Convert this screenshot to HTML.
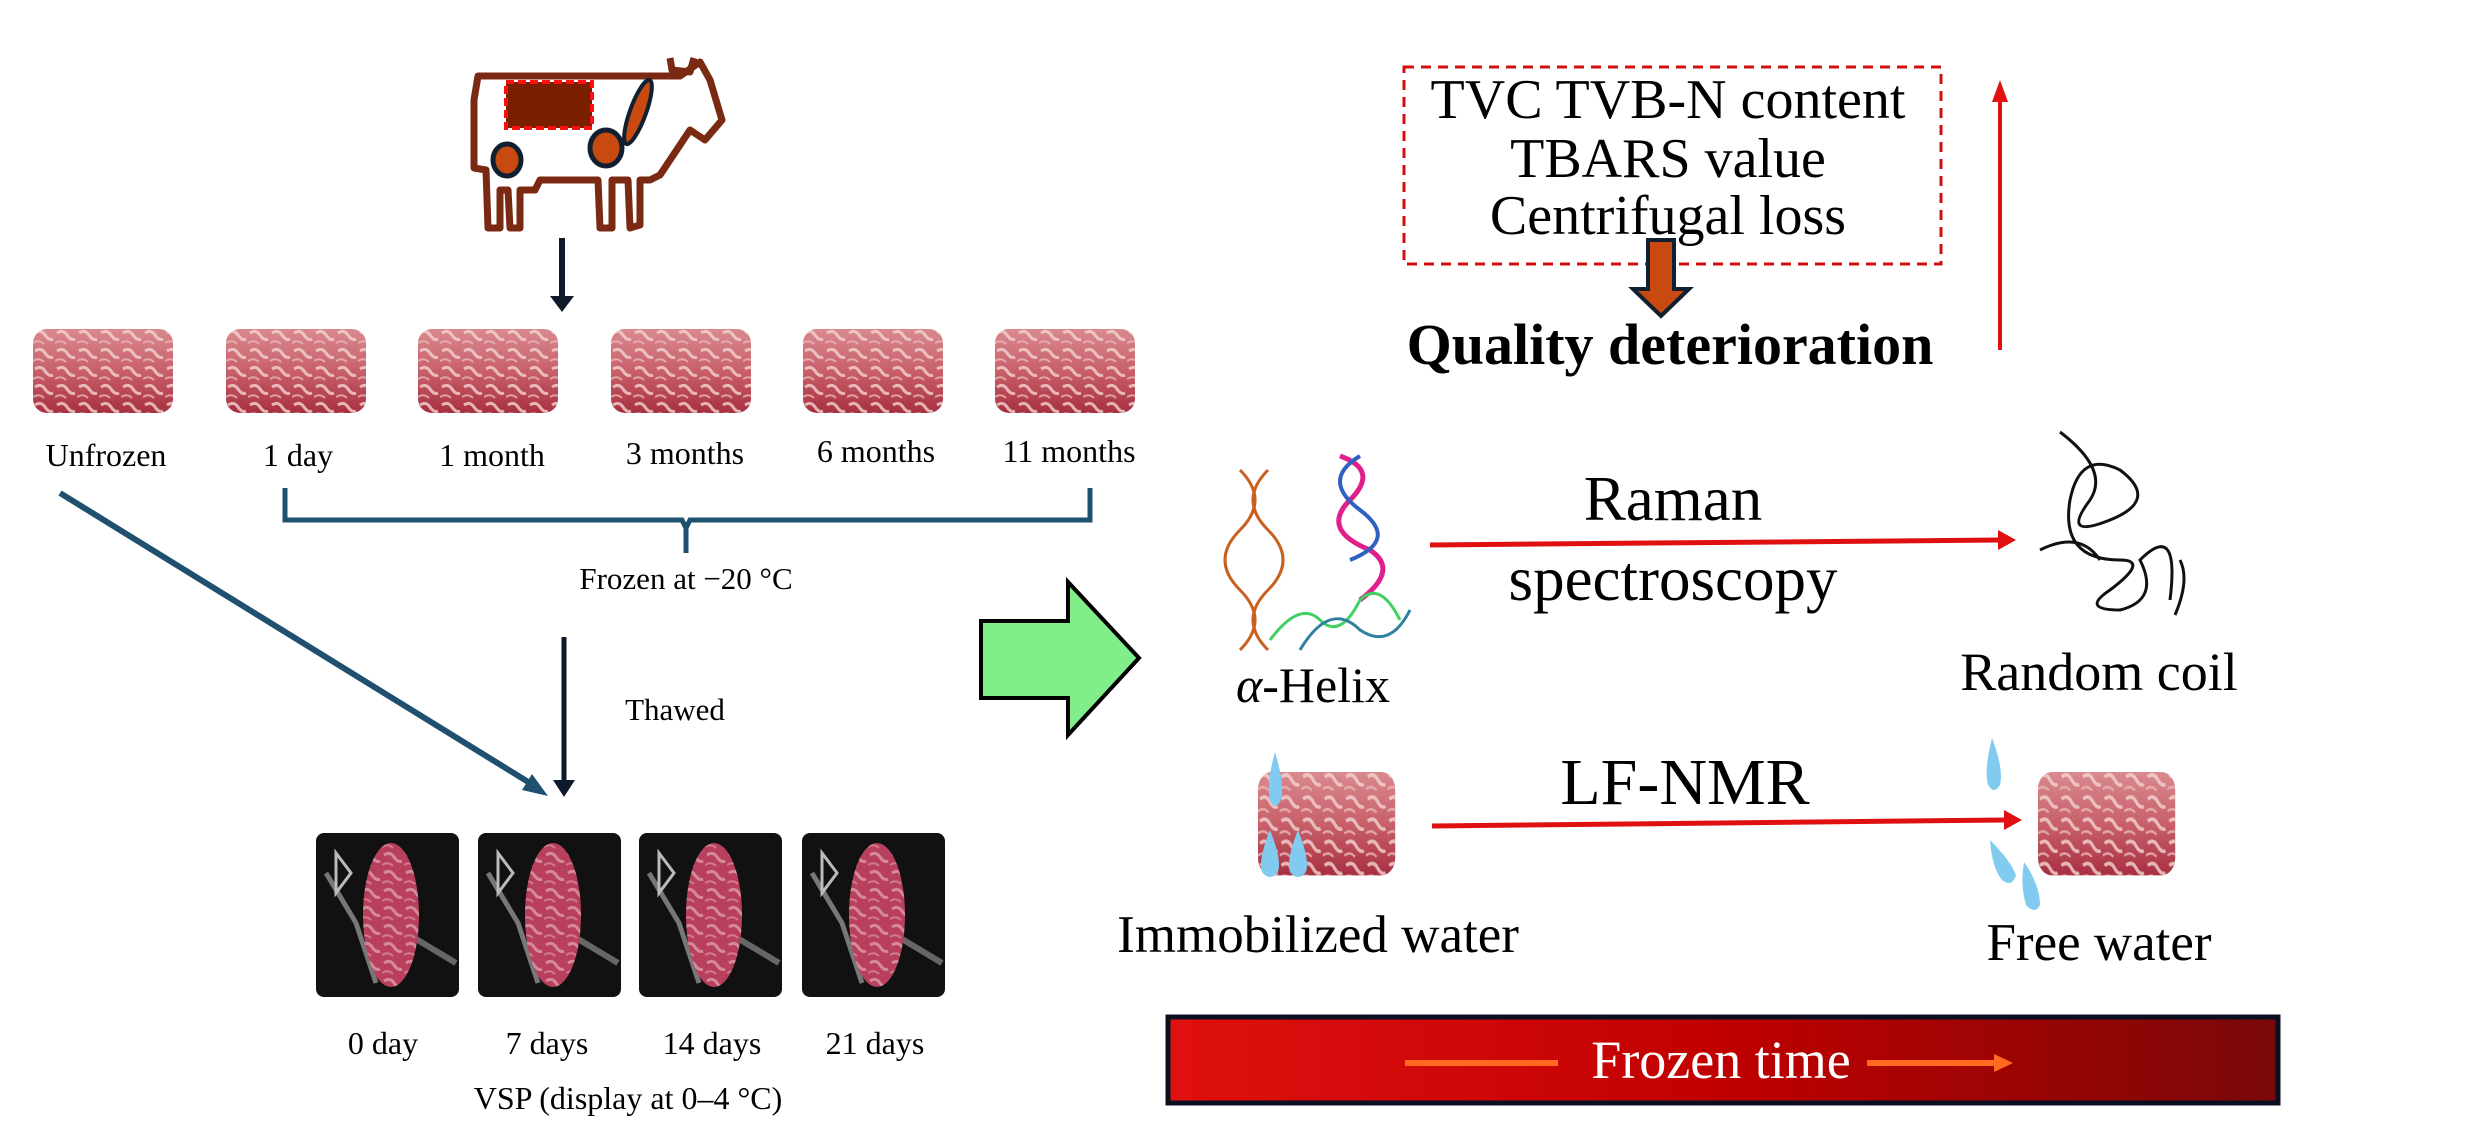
<!DOCTYPE html>
<html><head><meta charset="utf-8"><style>
html,body{margin:0;padding:0;background:#fff;}
svg{display:block}
text{font-family:"Liberation Serif",serif;fill:#000}
</style></head><body>
<svg width="2481" height="1138" viewBox="0 0 2481 1138" xmlns="http://www.w3.org/2000/svg">
<defs>
<linearGradient id="meat" x1="0" y1="0" x2="0" y2="1">
<stop offset="0" stop-color="#d98a8e"/><stop offset="0.5" stop-color="#c8606a"/><stop offset="1" stop-color="#a83040"/>
</linearGradient>
<pattern id="marb" width="22" height="18" patternUnits="userSpaceOnUse">
<path d="M2 4 Q8 0 12 6 T20 10" stroke="#f3d3d3" stroke-width="3" fill="none"/>
<path d="M0 14 Q6 10 11 15" stroke="#e9b8bb" stroke-width="2" fill="none"/>
</pattern>
<g id="meatpc">
<rect x="0" y="0" width="140" height="84" rx="14" fill="url(#meat)"/>
<rect x="0" y="0" width="140" height="84" rx="14" fill="url(#marb)" opacity="0.8"/>
</g>
<g id="tray">
<rect x="0" y="0" width="143" height="164" rx="8" fill="#111"/>
<path d="M10 40 L40 90 L60 150" stroke="#777" stroke-width="5" fill="none"/>
<path d="M20 20 L35 40 L20 60 Z" stroke="#bbb" stroke-width="3" fill="none"/>
<path d="M90 100 L140 130" stroke="#666" stroke-width="6"/>
<ellipse cx="75" cy="82" rx="28" ry="72" fill="#b8405e"/>
<ellipse cx="75" cy="82" rx="28" ry="72" fill="url(#marb)" opacity="0.5"/>
</g>
<linearGradient id="bar" x1="0" y1="0" x2="1" y2="0">
<stop offset="0" stop-color="#e01010"/><stop offset="0.5" stop-color="#c00000"/><stop offset="1" stop-color="#7a0808"/>
</linearGradient>
</defs>

<!-- Cow -->
<g stroke="#7a2a12" stroke-width="7" fill="none" stroke-linejoin="round">
<path d="M478 76 L680 76 L700 62 L710 80 L722 120 L705 140 L690 130 L670 160 L660 175 L650 180 L640 180 L640 225 L630 228 L628 180 L612 180 L612 228 L600 228 L598 180 L540 180 L535 190 L520 190 L520 228 L510 228 L508 190 L500 190 L500 228 L488 228 L486 170 L474 168 L474 100 Z"/>
<path d="M670 58 L672 70 L690 72 L694 58"/>
</g>
<rect x="506" y="82" width="86" height="46" fill="#7a2000" stroke="#ff1010" stroke-width="4" stroke-dasharray="8 4"/>
<ellipse cx="638" cy="112" rx="8" ry="34" transform="rotate(20 638 112)" fill="#c84a10" stroke="#102030" stroke-width="4"/>
<ellipse cx="606" cy="148" rx="16" ry="18" fill="#c84a10" stroke="#102030" stroke-width="5"/>
<ellipse cx="507" cy="160" rx="14" ry="16" fill="#c84a10" stroke="#102030" stroke-width="5"/>

<line x1="562" y1="238" x2="562" y2="300" stroke="#0c1a2a" stroke-width="6"/>
<path d="M550 296 L574 296 L562 312 Z" fill="#0c1a2a"/>

<use href="#meatpc" x="33" y="329"/>
<use href="#meatpc" x="226" y="329"/>
<use href="#meatpc" x="418" y="329"/>
<use href="#meatpc" x="611" y="329"/>
<use href="#meatpc" x="803" y="329"/>
<use href="#meatpc" x="995" y="329"/>
<g font-size="32" text-anchor="middle">
<text x="106" y="466">Unfrozen</text>
<text x="298" y="466">1 day</text>
<text x="492" y="466">1 month</text>
<text x="685" y="464">3  months</text>
<text x="876" y="462">6  months</text>
<text x="1069" y="462">11 months</text>
</g>
<path d="M285 488 L285 520 L682 520 L686 528 L690 520 L1090 520 L1090 488 M686 524 L686 553" stroke="#1f5070" stroke-width="5" fill="none"/>
<text x="686" y="589" font-size="31" text-anchor="middle">Frozen at −20 °C</text>

<line x1="60" y1="493" x2="538" y2="788" stroke="#1f5070" stroke-width="6"/>
<path d="M548 796 L522 790 L532 774 Z" fill="#1f5070"/>
<line x1="564" y1="637" x2="564" y2="782" stroke="#0c1a2a" stroke-width="5"/>
<path d="M553 780 L575 780 L564 797 Z" fill="#0c1a2a"/>
<text x="675" y="720" font-size="31" text-anchor="middle">Thawed</text>

<use href="#tray" x="316" y="833"/>
<use href="#tray" x="478" y="833"/>
<use href="#tray" x="639" y="833"/>
<use href="#tray" x="802" y="833"/>
<g font-size="32" text-anchor="middle">
<text x="383" y="1054">0 day</text>
<text x="547" y="1054">7 days</text>
<text x="712" y="1054">14 days</text>
<text x="875" y="1054">21 days</text>
<text x="628" y="1109">VSP (display at 0–4 °C)</text>
</g>

<path d="M981 621 L1068 621 L1068 582 L1139 658 L1068 735 L1068 698 L981 698 Z" fill="#80ef8a" stroke="#000" stroke-width="4"/>

<rect x="1404" y="67" width="537" height="197" fill="none" stroke="#d01010" stroke-width="3" stroke-dasharray="10 7"/>
<g font-size="56" text-anchor="middle">
<text x="1668" y="118">TVC TVB-N content</text>
<text x="1668" y="177">TBARS value</text>
<text x="1668" y="234">Centrifugal loss</text>
</g>
<path d="M1648 240 L1674 240 L1674 289 L1689 289 L1661 316 L1633 289 L1648 289 Z" fill="#c84a10" stroke="#102030" stroke-width="4"/>
<text x="1670" y="364" font-size="58" font-weight="bold" text-anchor="middle">Quality deterioration</text>
<line x1="2000" y1="350" x2="2000" y2="100" stroke="#e01010" stroke-width="4"/>
<path d="M1992 102 L2008 102 L2000 80 Z" fill="#e01010"/>

<g fill="none" stroke-width="3">
<path d="M1240 470 Q1270 500 1240 530 Q1210 560 1240 590 Q1270 620 1240 650" stroke="#c86020"/>
<path d="M1268 470 Q1238 500 1268 530 Q1298 560 1268 590 Q1238 620 1268 650" stroke="#c86020"/>
<path d="M1340 456 Q1380 470 1350 500 Q1320 530 1370 550 Q1400 570 1360 600" stroke="#e0208a" stroke-width="5"/>
<path d="M1360 456 Q1320 480 1360 510 Q1400 540 1350 560" stroke="#3060c0" stroke-width="4"/>
<path d="M1270 640 Q1300 600 1320 620 Q1340 640 1360 600 Q1380 580 1400 620" stroke="#40d060"/>
<path d="M1300 650 Q1330 600 1360 630 Q1390 650 1410 610" stroke="#3080a0"/>
</g>
<path d="M2060 432 Q2110 470 2090 500 Q2060 540 2110 520 Q2160 500 2120 470 Q2080 450 2070 500 Q2060 560 2120 560 Q2150 560 2110 590 Q2080 610 2120 610 Q2160 600 2140 560 Q2180 520 2170 600 M2040 550 Q2080 530 2100 560 M2180 560 Q2190 580 2175 615" fill="none" stroke="#111" stroke-width="3"/>

<line x1="1430" y1="545" x2="2000" y2="540" stroke="#e01010" stroke-width="5"/>
<path d="M1998 530 L2016 540 L1998 550 Z" fill="#e01010"/>
<text x="1673" y="520" font-size="63" text-anchor="middle">Raman</text>
<text x="1673" y="600" font-size="63" text-anchor="middle">spectroscopy</text>
<text x="1313" y="702" font-size="50" text-anchor="middle"><tspan font-style="italic">α</tspan>-Helix</text>
<text x="2099" y="690" font-size="54" text-anchor="middle">Random coil</text>

<use href="#meatpc" transform="translate(1258 772) scale(0.98 1.23)"/>
<g fill="#80cbef">
<path d="M1275 752 Q1266 785 1270 800 Q1275 812 1281 800 Q1285 785 1275 752 Z"/>
<path d="M1270 830 Q1258 860 1262 872 Q1270 882 1278 872 Q1282 860 1270 830 Z"/>
<path d="M1298 830 Q1286 860 1290 872 Q1298 882 1306 872 Q1310 860 1298 830 Z"/>
<path d="M1992 738 Q1984 770 1988 785 Q1994 795 2000 785 Q2004 770 1992 738 Z"/>
<path d="M1990 840 Q2010 860 2016 875 Q2012 888 2002 880 Q1992 868 1990 840 Z"/>
<path d="M2024 862 Q2040 885 2040 905 Q2035 915 2026 905 Q2020 885 2024 862 Z"/>
</g>
<use href="#meatpc" transform="translate(2038 772) scale(0.98 1.23)"/>
<line x1="1432" y1="826" x2="2005" y2="820" stroke="#e01010" stroke-width="5"/>
<path d="M2004 810 L2022 820 L2004 830 Z" fill="#e01010"/>
<text x="1685" y="804" font-size="66" text-anchor="middle">LF-NMR</text>
<text x="1318" y="952" font-size="53" text-anchor="middle">Immobilized water</text>
<text x="2099" y="960" font-size="53" text-anchor="middle">Free water</text>

<rect x="1168" y="1017" width="1110" height="86" fill="url(#bar)"/>
<rect x="1168" y="1017" width="1110" height="86" fill="none" stroke="#0a1020" stroke-width="5"/>
<line x1="1405" y1="1063" x2="1558" y2="1063" stroke="#ff6a20" stroke-width="6"/>
<line x1="1867" y1="1063" x2="1998" y2="1063" stroke="#ff6a20" stroke-width="6"/>
<path d="M1994 1054 L2013 1063 L1994 1072 Z" fill="#ff6a20"/>
<text x="1721" y="1078" font-size="54" text-anchor="middle" style="fill:#fff">Frozen time</text>
</svg>
</body></html>
